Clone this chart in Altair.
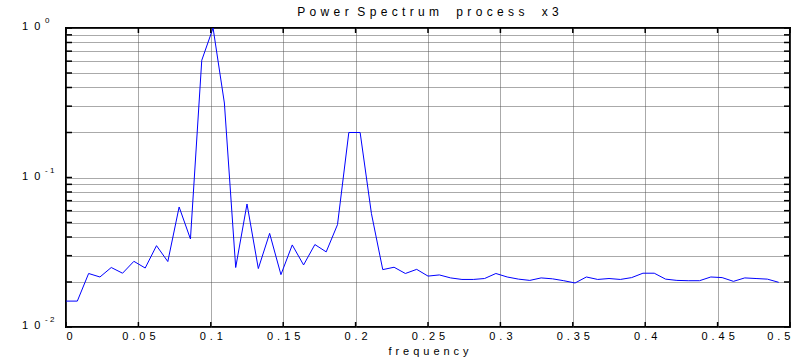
import altair as alt
import pandas as pd

# ---- data ----
freqs = [k / 128 for k in range(64)]
power = [0.0149, 0.0149, 0.0228, 0.0216, 0.0250, 0.0229, 0.0275, 0.0248, 0.0350, 0.0274,
         0.0635, 0.0388, 0.608, 1.0, 0.315, 0.0250, 0.0665, 0.0246, 0.0423, 0.0224,
         0.0354, 0.0260, 0.0356, 0.0318, 0.0484, 0.200, 0.200, 0.0573, 0.0242, 0.0251,
         0.0228, 0.0243, 0.0219, 0.0223, 0.0213, 0.0208, 0.0208, 0.0211, 0.0228, 0.0216,
         0.0209, 0.0205, 0.0213, 0.0210, 0.0204, 0.0197, 0.0216, 0.0208, 0.0211, 0.0208,
         0.0214, 0.0229, 0.0229, 0.0209, 0.0205, 0.0204, 0.0204, 0.0216, 0.0214, 0.0202,
         0.0213, 0.0211, 0.0209, 0.0199]

x_ticks = [0, 0.05, 0.1, 0.15, 0.2, 0.25, 0.3, 0.35, 0.4, 0.45, 0.5]
y_grid = [0.01, 0.02, 0.03, 0.04, 0.05, 0.06, 0.07, 0.08, 0.09,
          0.1, 0.2, 0.3, 0.4, 0.5, 0.6, 0.7, 0.8, 0.9, 1.0]
y_major = [0.01, 0.1, 1.0]
y_mant = ["1\u00a0\u00a00", "1\u00a0\u00a00", "1\u00a0\u00a00"]
y_exp = ["-\u00a02", "-\u00a01", "0"]

NB = "\u00a0"
GAP = "\u00a0\u200a"
title_text = (GAP.join("Power") + GAP * 2 + GAP.join("Spectrum") + GAP * 4
              + GAP.join("process") + GAP * 4 + GAP.join("x3"))

W, H = 724, 299
FONT = "Liberation Sans"

df = pd.DataFrame({"f": freqs, "p": power})
df_ygrid = pd.DataFrame({"v": y_grid})
df_xt = pd.DataFrame({"v": x_ticks})
df_lab = pd.DataFrame({"v": y_major, "m": y_mant, "e": y_exp})

xscale = alt.Scale(domain=[0, 0.5], nice=False, zero=False)
yscale = alt.Scale(type="log", domain=[0.01, 1], nice=False)

line = alt.Chart(df).mark_line(color="#0000ff", strokeWidth=1, clip=True).encode(
    x=alt.X("f:Q", scale=xscale,
            axis=alt.Axis(values=x_ticks, title=GAP.join("frequency"),
                          labelExpr="join(split(datum.value == 0 ? '0' : format(datum.value, '~g'), ''), '\u00a0\u200a')",
                          grid=True, gridColor="#555", gridDash=[1, 1], gridWidth=1,
                          ticks=False, domain=False, labelFont=FONT, labelFontSize=11,
                          labelColor="black", labelPadding=3, labelOverlap=False,
                          titleFont=FONT,
                          titleFontSize=11, titleFontWeight="normal", titleColor="black",
                          titlePadding=4)),
    y=alt.Y("p:Q", scale=yscale,
            axis=alt.Axis(values=y_grid, title=None, labels=False, grid=True,
                          gridColor="#555", gridDash=[1, 1], gridWidth=1,
                          ticks=False, domain=False)),
)

ytick_l = alt.Chart(df_ygrid).mark_rule(color="black", strokeWidth=1.5).encode(
    y=alt.Y("v:Q", scale=yscale), x=alt.value(0), x2=alt.value(6))
ytick_r = alt.Chart(df_ygrid).mark_rule(color="black", strokeWidth=1.5).encode(
    y=alt.Y("v:Q", scale=yscale), x=alt.value(W), x2=alt.value(W - 6))
xtick_b = alt.Chart(df_xt).mark_rule(color="black", strokeWidth=1.5).encode(
    x=alt.X("v:Q", scale=xscale), y=alt.value(H), y2=alt.value(H - 5))
xtick_t = alt.Chart(df_xt).mark_rule(color="black", strokeWidth=1.5).encode(
    x=alt.X("v:Q", scale=xscale), y=alt.value(0), y2=alt.value(5))

mant = alt.Chart(df_lab).mark_text(font=FONT, fontSize=11, align="left",
                                   baseline="middle", dx=-44, dy=-1, color="black").encode(
    y=alt.Y("v:Q", scale=yscale), x=alt.value(0), text="m:N")
expo = alt.Chart(df_lab).mark_text(font=FONT, fontSize=8, align="left",
                                   baseline="middle", dx=-21, dy=-7, color="black").encode(
    y=alt.Y("v:Q", scale=yscale), x=alt.value(0), text="e:N")

chart = alt.layer(line, ytick_l, ytick_r, xtick_b, xtick_t, mant, expo).properties(
    width=W, height=H,
    title=alt.TitleParams(title_text,
                          font=FONT, fontSize=12, fontWeight="normal", color="black",
                          anchor="middle", offset=10, dy=12),
    autosize=alt.AutoSizeParams(type="none"),
    padding={"left": 66, "top": 28, "right": 7, "bottom": 32},
    background="white",
).configure_view(stroke="black", strokeWidth=2)

chart.save("out.html", embed_options={"renderer": "svg", "actions": False})
